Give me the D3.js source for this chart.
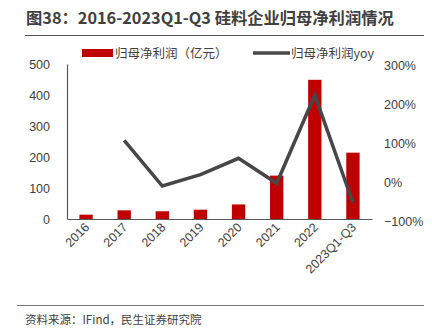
<!DOCTYPE html>
<html>
<head>
<meta charset="utf-8">
<script src="https://cdn.jsdelivr.net/npm/d3@7"></script>
<style>
  html, body { margin: 0; padding: 0; background: #fff; }
  svg { display: block; font-family: "Microsoft YaHei", "Noto Sans CJK SC", "Noto Sans", sans-serif; }
</style>
</head>
<body>
<svg id="chart" width="432" height="333"></svg>
<script>
// Categories, net profit attributable to parent (100m yuan) and its YoY growth
const categories = ["2016", "2017", "2018", "2019", "2020", "2021", "2022", "2023Q1-Q3"];
const profit = [14, 28, 25, 30, 47, 140, 449, 214];
const yoy = [null, 1.08, -0.09, 0.20, 0.62, -0.02, 2.24, -0.52];
const leftTicks = [0, 100, 200, 300, 400, 500];
const rightTicks = [-1, 0, 1, 2, 3];

const svg = d3.select("#chart");
const textColor = "#404040";
const axisColor = "#595959";

const margin = { left: 67, right: 372, top: 64, bottom: 219 };

const x = d3.scaleBand().domain(categories).range([margin.left, margin.right]);
const yL = d3.scaleLinear().domain([0, 500]).range([margin.bottom, margin.top]);
const yR = d3.scaleLinear().domain([-1, 3]).range([221.5, 65.5]);

// Title with underline
svg.append("text").attr("x", 26).attr("y", 24)
  .attr("font-size", 16.3).attr("font-weight", "bold").attr("fill", textColor)
  .text("图38：2016-2023Q1-Q3 硅料企业归母净利润情况");
svg.append("line").attr("x1", 25).attr("x2", 424).attr("y1", 35.5).attr("y2", 35.5)
  .attr("stroke", "#555").attr("stroke-width", 1.2);

// Bars
const bw = x.bandwidth() * 0.35;
svg.append("g").selectAll("rect").data(categories).join("rect")
  .attr("x", d => x(d) + x.bandwidth() / 2 - bw / 2)
  .attr("width", bw)
  .attr("y", (d, i) => yL(profit[i]))
  .attr("height", (d, i) => yL(0) - yL(profit[i]))
  .attr("fill", "#c00000");

// YoY line
const line = d3.line()
  .defined(d => d.v !== null)
  .x(d => x(d.c) + x.bandwidth() / 2)
  .y(d => yR(d.v));
svg.append("path")
  .datum(categories.map((c, i) => ({ c, v: yoy[i] })))
  .attr("d", line)
  .attr("fill", "none").attr("stroke", "#474747").attr("stroke-width", 3.5)
  .attr("stroke-linejoin", "miter");

// Left axis
const gL = svg.append("g").attr("transform", `translate(${margin.left},0)`)
  .call(d3.axisLeft(yL).tickValues(leftTicks).tickSize(0).tickPadding(17));
gL.select(".domain").attr("stroke", axisColor).attr("stroke-width", 1.2);
gL.selectAll("text").attr("font-size", 12.5).attr("fill", textColor).attr("font-family", "inherit");

// Right axis labels (no axis line)
const gR = svg.append("g").attr("transform", `translate(${margin.right},0)`)
  .call(d3.axisRight(yR).tickValues(rightTicks).tickSize(0).tickPadding(12)
    .tickFormat(d => d3.format(".0%")(d)));
gR.select(".domain").remove();
gR.selectAll("text").attr("font-size", 12.5).attr("fill", textColor).attr("font-family", "inherit");

// Bottom axis
const gB = svg.append("g").attr("transform", `translate(0,${margin.bottom})`)
  .call(d3.axisBottom(x).tickSize(0).tickPadding(0));
gB.select(".domain").attr("stroke", axisColor).attr("stroke-width", 1.2);
gB.selectAll("text")
  .attr("font-size", 12.5).attr("fill", textColor).attr("font-family", "inherit")
  .attr("text-anchor", "end")
  .attr("dy", 0)
  .attr("transform", "translate(4,9) rotate(-45)");

// Legend
svg.append("rect").attr("x", 82).attr("y", 49).attr("width", 31).attr("height", 8).attr("fill", "#c00000");
svg.append("text").attr("x", 115).attr("y", 58).attr("font-size", 12.5).attr("fill", textColor)
  .text("归母净利润（亿元）");
svg.append("line").attr("x1", 253).attr("x2", 290).attr("y1", 53).attr("y2", 53)
  .attr("stroke", "#474747").attr("stroke-width", 3.5);
svg.append("text").attr("x", 291).attr("y", 58).attr("font-size", 12.5).attr("fill", textColor)
  .text("归母净利润yoy");

// Source note
svg.append("line").attr("x1", 17).attr("x2", 424).attr("y1", 305.5).attr("y2", 305.5)
  .attr("stroke", "#777").attr("stroke-width", 1);
svg.append("text").attr("x", 25).attr("y", 324).attr("font-size", 11.5).attr("fill", textColor)
  .text("资料来源：IFind，民生证券研究院");
</script>
</body>
</html>
